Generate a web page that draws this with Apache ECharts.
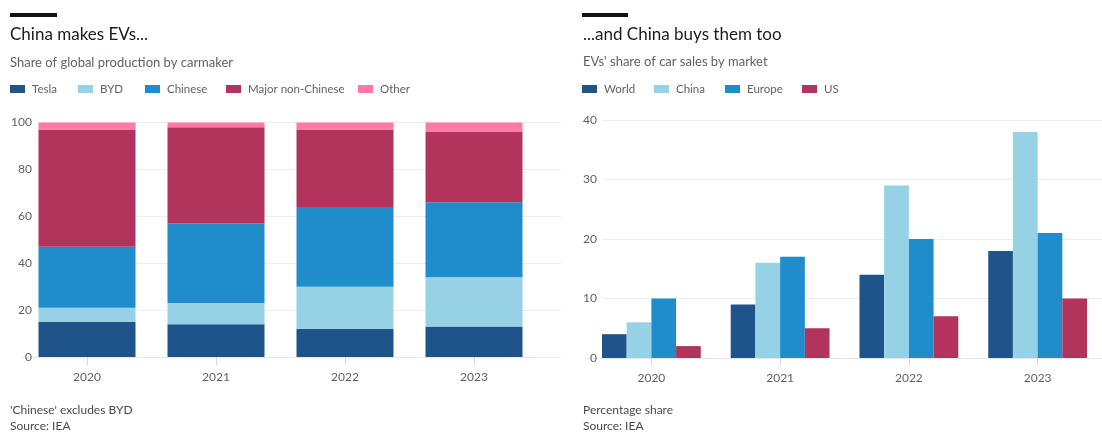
<!DOCTYPE html>
<html>
<head>
<meta charset="utf-8">
<script src="https://cdn.jsdelivr.net/npm/echarts@6/dist/echarts.min.js"></script>
<style>
html,body{margin:0;padding:0;background:#fff;}
#chart{width:1102px;height:439px;}
</style>
</head>
<body>
<div id="chart"></div>
<script>
var years = ['2020', '2021', '2022', '2023'];

// left chart: share of global production by carmaker (%)
var tesla = [15, 14, 12, 13];
var byd = [6, 9, 18, 21];
var chinese = [26, 34, 34, 32];
var majorNonChinese = [50, 41, 33, 30];
var other = [3, 2, 3, 4];
var leftTicks = [0, 20, 40, 60, 80, 100];

// right chart: EVs' share of car sales by market (%)
var world = [4, 9, 14, 18];
var china = [6, 16, 29, 38];
var europe = [10, 17, 20, 21];
var us = [2, 5, 7, 10];
var rightTicks = [0, 10, 20, 30, 40];

var FONT = 'Lato, "Open Sans", sans-serif';
var colDark = '#1f548b';
var colLight = '#97d1e6';
var colMid = '#1f8dcc';
var colRed = '#b2335c';
var colPink = '#ff7aa6';
var grey = '#66605c';

function legendItem(name, x) {
	return {
		left: x, top: 83, padding: 0, itemGap: 0,
		data: [name], icon: 'rect', itemWidth: 15, itemHeight: 8,
		selectedMode: false,
		textStyle: {fontFamily: FONT, fontSize: 11.5, color: grey, padding: [0, 0, 0, 2]}
	};
}
function textBlock(txt, x, y, size, color) {
	return {
		text: txt, left: x, top: y, padding: 0,
		textStyle: {fontFamily: FONT, fontSize: size, fontWeight: 'normal', color: color}
	};
}
function barSeries(name, data, color, xi, stack, width) {
	var s = {
		name: name, type: 'bar', data: data,
		xAxisIndex: xi, yAxisIndex: xi,
		itemStyle: {color: color},
		barWidth: width, barGap: '0%',
		animation: false
	};
	if (stack) s.stack = stack;
	return s;
}
var catAxis = function (grid) {
	return {
		type: 'category', gridIndex: grid, data: years,
		axisLine: {show: true, lineStyle: {color: '#e6e6e6'}},
		axisTick: {show: true, alignWithLabel: true, length: 8, lineStyle: {color: '#d9d9d9'}},
		axisLabel: {fontFamily: FONT, fontSize: 12, color: grey, margin: 14}
	};
};
var valAxis = function (grid, ticks, showIt) {
	return {
		type: 'value', gridIndex: grid,
		min: ticks[0], max: ticks[ticks.length - 1], interval: ticks[1] - ticks[0],
		show: showIt,
		axisLine: {show: false}, axisTick: {show: false},
		axisLabel: {fontFamily: FONT, fontSize: 12, color: grey, margin: 6},
		splitLine: {lineStyle: {color: '#ececec'}}
	};
};

var myChart = echarts.init(document.getElementById('chart'));
var option = {
	backgroundColor: '#fff',
	animation: false,
	title: [
		textBlock('China makes EVs...', 10, 26, 17, '#1a1a1a'),
		textBlock('Share of global production by carmaker', 10, 56, 13, grey),
		textBlock("'Chinese' excludes BYD", 10, 404, 12, '#4d4845'),
		textBlock('Source: IEA', 10, 420, 12, '#4d4845'),
		textBlock('...and China buys them too', 583, 26, 17, '#1a1a1a'),
		textBlock("EVs' share of car sales by market", 583, 55, 13, grey),
		textBlock('Percentage share', 583, 404, 12, '#4d4845'),
		textBlock('Source: IEA', 583, 420, 12, '#4d4845')
	],
	legend: [
		legendItem('Tesla', 10),
		legendItem('BYD', 78),
		legendItem('Chinese', 145),
		legendItem('Major non-Chinese', 226),
		legendItem('Other', 358),
		legendItem('World', 582),
		legendItem('China', 654),
		legendItem('Europe', 725),
		legendItem('US', 802)
	],
	graphic: [
		{type: 'rect', left: 10, top: 13, shape: {width: 47, height: 4}, style: {fill: '#111'}},
		{type: 'rect', left: 582, top: 13, shape: {width: 46, height: 4}, style: {fill: '#111'}}
	],
	grid: [
		{left: 22.5, width: 516, top: 122.5, bottom: 82},   // left bars
		{left: 38, width: 523, top: 122.5, bottom: 82},     // left axis
		{left: 587, width: 520, top: 120, bottom: 81},      // right bars
		{left: 603, width: 499, top: 120, bottom: 81}       // right axis
	],
	xAxis: [
		catAxis(0),
		{type: 'value', gridIndex: 1, show: false},
		catAxis(2),
		{type: 'value', gridIndex: 3, show: false}
	],
	yAxis: [
		valAxis(0, leftTicks, false),
		valAxis(1, leftTicks, true),
		valAxis(2, rightTicks, false),
		valAxis(3, rightTicks, true)
	],
	series: [
		barSeries('Tesla', tesla, colDark, 0, 'p', 97),
		barSeries('BYD', byd, colLight, 0, 'p', 97),
		barSeries('Chinese', chinese, colMid, 0, 'p', 97),
		barSeries('Major non-Chinese', majorNonChinese, colRed, 0, 'p', 97),
		barSeries('Other', other, colPink, 0, 'p', 97),
		barSeries('World', world, colDark, 2, null, 24.7),
		barSeries('China', china, colLight, 2, null, 24.7),
		barSeries('Europe', europe, colMid, 2, null, 24.7),
		barSeries('US', us, colRed, 2, null, 24.7)
	]
};
myChart.setOption(option);
</script>
</body>
</html>
